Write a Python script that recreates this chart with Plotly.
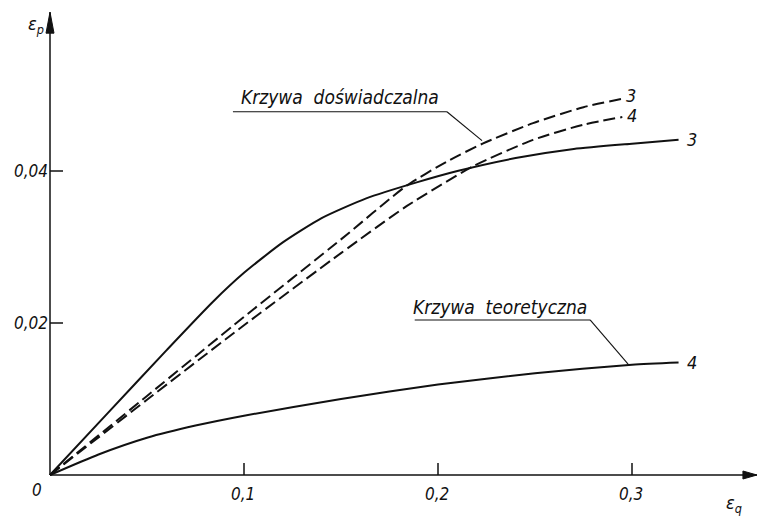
import plotly.graph_objects as go

# ---- data ----
solid3_x = [0, 0.03, 0.06, 0.084, 0.10, 0.12, 0.14, 0.163, 0.189, 0.21, 0.24, 0.27, 0.30, 0.324]
solid3_y = [0, 0.0082, 0.0164, 0.0228, 0.0266, 0.0306, 0.0338, 0.0364, 0.0385, 0.0400, 0.0417, 0.0429, 0.0436, 0.0441]

dashed3_x = [0, 0.05, 0.10, 0.15, 0.184, 0.205, 0.223, 0.249, 0.275, 0.295]
dashed3_y = [0, 0.0104, 0.0208, 0.0310, 0.0381, 0.0413, 0.0436, 0.0463, 0.0484, 0.0495]

dashed4_x = [0, 0.05, 0.10, 0.15, 0.184, 0.218, 0.249, 0.275, 0.295]
dashed4_y = [0, 0.0099, 0.0197, 0.0292, 0.0354, 0.0406, 0.0441, 0.0461, 0.0471]

lower4_x = [0, 0.025, 0.05, 0.075, 0.10, 0.15, 0.20, 0.25, 0.30, 0.324]
lower4_y = [0, 0.0027, 0.0049, 0.0065, 0.0078, 0.0100, 0.0119, 0.0134, 0.0145, 0.0148]

x_ticks = [0.1, 0.2, 0.3]
x_ticklabels = ["0,1", "0,2", "0,3"]
y_ticks = [0.02, 0.04]
y_ticklabels = ["0,02", "0,04"]

label_exp = "Krzywa  doświadczalna"
label_theo = "Krzywa  teoretyczna"

# ---- scales (pixels per unit) ----
PX = 1940.0
PY = 7600.0
W, H = 758, 516
X0, Y0 = 50, 475  # origin pixel
xr = [-X0 / PX, (W - X0) / PX]
yr = [-(H - Y0) / PY, Y0 / PY]

FONT = "DejaVu Sans Condensed, DejaVu Sans, Liberation Sans Narrow"
ink = "#111111"

fig = go.Figure()

def curve(x, y, dash=None, width=2.0):
    fig.add_trace(go.Scatter(
        x=x, y=y, mode="lines",
        line=dict(color=ink, width=width, shape="spline", smoothing=0.6,
                  dash=dash if dash else "solid"),
        hoverinfo="skip", showlegend=False))

curve(solid3_x, solid3_y)
curve(lower4_x, lower4_y)
curve(dashed3_x, dashed3_y, dash="12px,5px")
curve(dashed4_x, dashed4_y, dash="12px,5px")

shapes = []
# axes
x_end = 0.3644
y_end = 0.0609
shapes.append(dict(type="line", x0=0, y0=0, x1=x_end, y1=0, line=dict(color=ink, width=1.5)))
shapes.append(dict(type="line", x0=0, y0=0, x1=0, y1=y_end, line=dict(color=ink, width=1.5)))
# arrowheads
ax_len = 14 / PX
ax_half = 4 / PY
shapes.append(dict(type="path",
                   path=f"M {x_end},0 L {x_end-ax_len},{ax_half} L {x_end-ax_len},{-ax_half} Z",
                   fillcolor=ink, line=dict(color=ink, width=1)))
ay_len = 21 / PY
ay_half = 4 / PX
shapes.append(dict(type="path",
                   path=f"M 0,{y_end} L {ay_half},{y_end-ay_len} L {-ay_half},{y_end-ay_len} Z",
                   fillcolor=ink, line=dict(color=ink, width=1)))
# ticks
for t in x_ticks:
    shapes.append(dict(type="line", x0=t, y0=0, x1=t, y1=12 / PY, line=dict(color=ink, width=1.5)))
for t in y_ticks:
    shapes.append(dict(type="line", x0=0, y0=t, x1=13 / PX, y1=t, line=dict(color=ink, width=1.5)))

# callout lines (underline + leader)
exp_under = [(0.0943, 0.0478), (0.2046, 0.0478), (0.2227, 0.0440)]
theo_under = [(0.188, 0.0204), (0.2784, 0.0204), (0.298, 0.0146)]
for pts in (exp_under, theo_under):
    for (xa, ya), (xb, yb) in zip(pts[:-1], pts[1:]):
        shapes.append(dict(type="line", x0=xa, y0=ya, x1=xb, y1=yb, line=dict(color=ink, width=1.1)))

ann = []
def text(x, y, s, size=16, xanchor="center", yanchor="middle"):
    ann.append(dict(x=x, y=y, text=s, showarrow=False, xanchor=xanchor, yanchor=yanchor,
                    font=dict(family=FONT, size=size, color=ink, style="italic")))

for t, lab in zip(x_ticks, x_ticklabels):
    text(t - 1 / PX, -19 / PY, lab, size=17)
text(-13 / PX, -15 / PY, "0", size=17)
for t, lab in zip(y_ticks, y_ticklabels):
    text(-19 / PX, t, lab, size=17)
text(-14 / PX, 450 / PY, "ε<sub>p</sub>", size=18)
text(684 / PX, -29 / PY, "ε<sub>q</sub>", size=18)

text(0.1495, 0.0498, label_exp, size=19)
text(0.232, 0.0221, label_theo, size=19)

# curve end labels
text(dashed3_x[-1] + 9 / PX, dashed3_y[-1] + 3 / PY, "3", size=18)
text(dashed4_x[-1] + 10 / PX, dashed4_y[-1] + 2 / PY, "4", size=18)
text(solid3_x[-1] + 13 / PX, solid3_y[-1], "3", size=18)
text(lower4_x[-1] + 13 / PX, lower4_y[-1], "4", size=18)

fig.update_layout(
    width=W, height=H,
    margin=dict(l=0, r=0, t=0, b=0),
    paper_bgcolor="white", plot_bgcolor="white",
    xaxis=dict(range=xr, visible=False, fixedrange=True),
    yaxis=dict(range=yr, visible=False, fixedrange=True),
    shapes=shapes, annotations=ann,
    showlegend=False,
)

fig.write_html("out.html")
